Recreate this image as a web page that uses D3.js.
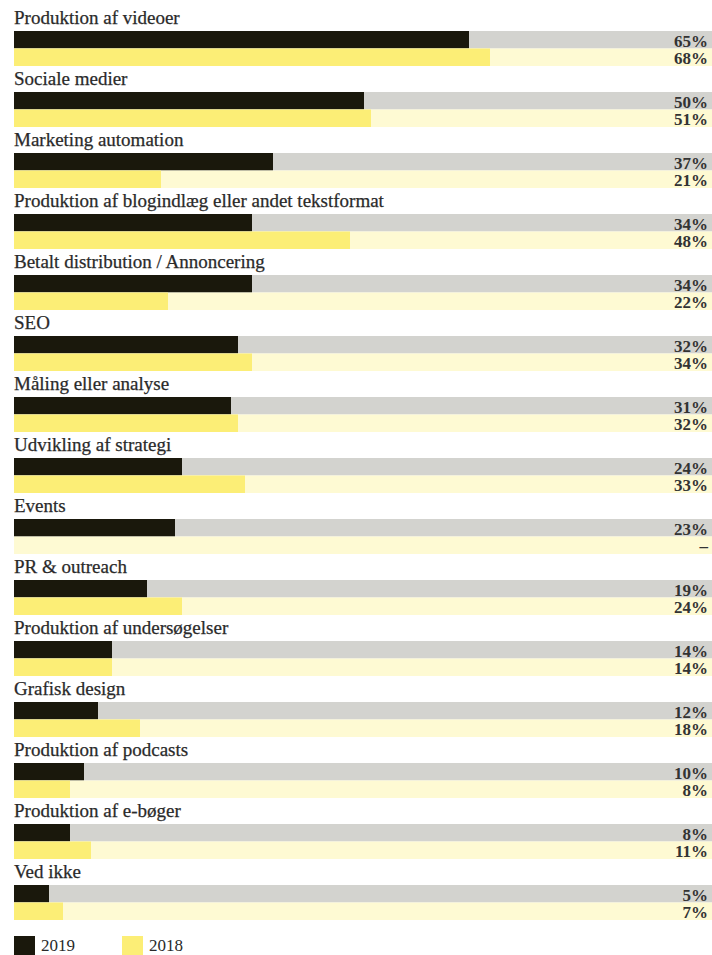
<!DOCTYPE html>
<html>
<head>
<meta charset="utf-8">
<script src="https://cdn.jsdelivr.net/npm/d3@7"></script>
<style>
  body { margin: 0; background: #fff; }
  text { font-family: "Liberation Serif", "DejaVu Serif", serif; }
</style>
</head>
<body>
<svg id="chart" width="712" height="955"></svg>
<script>
// data
var categories = ["Produktion af videoer", "Sociale medier", "Marketing automation",
  "Produktion af blogindlæg eller andet tekstformat", "Betalt distribution / Annoncering",
  "SEO", "Måling eller analyse", "Udvikling af strategi", "Events", "PR & outreach",
  "Produktion af undersøgelser", "Grafisk design", "Produktion af podcasts",
  "Produktion af e-bøger", "Ved ikke"];
var values2019 = [65, 50, 37, 34, 34, 32, 31, 24, 23, 19, 14, 12, 10, 8, 5];
var values2018 = [68, 51, 21, 48, 22, 34, 32, 33, null, 24, 14, 18, 8, 11, 7];
var seriesNames = ["2019", "2018"];

var svg = d3.select("#chart");

var colors = {"2019": "#1a180c", "2018": "#fcee76"};
var tracks = {"2019": "#d3d3cf", "2018": "#fefad3"};

var x = d3.scaleLinear().domain([0, 100]).range([14, 714]);

// one band per category, 61px apart
var y = d3.scaleBand().domain(categories).range([8, 8 + 61 * categories.length]).padding(0);
var ySub = d3.scaleBand().domain(seriesNames).range([23, 58]);

var rows = [];
categories.forEach(function(c, i) {
  rows.push({cat: c, series: "2019", v: values2019[i]});
  rows.push({cat: c, series: "2018", v: values2018[i]});
});

var group = svg.selectAll("g.cat")
  .data(categories)
  .enter().append("g")
  .attr("class", "cat")
  .attr("transform", function(d) { return "translate(0," + y(d) + ")"; });

group.append("text")
  .attr("x", 14)
  .attr("y", 16)
  .attr("font-size", "19px")
  .attr("fill", "#2a2a2a")
  .attr("stroke", "#2a2a2a")
  .attr("stroke-width", 0.25)
  .text(function(d) { return d; });

var bars = svg.selectAll("g.bar")
  .data(rows)
  .enter().append("g")
  .attr("class", "bar")
  .attr("transform", function(d) { return "translate(0," + (y(d.cat) + ySub(d.series)) + ")"; });

// background track
bars.append("rect")
  .attr("x", x(0))
  .attr("width", x(100) - x(0))
  .attr("height", ySub.bandwidth())
  .attr("fill", function(d) { return tracks[d.series]; });

bars.append("rect")
  .attr("x", x(0))
  .attr("width", function(d) { return d.v == null ? 0 : x(d.v) - x(0); })
  .attr("height", ySub.bandwidth())
  .attr("fill", function(d) { return colors[d.series]; });

bars.append("text")
  .attr("x", 708)
  .attr("y", ySub.bandwidth() - 2)
  .attr("text-anchor", "end")
  .attr("font-size", "17px")
  .attr("font-weight", "bold")
  .attr("fill", "#333")
  .text(function(d) { return d.v == null ? "–" : d.v + "%"; });

// legend
var legend = svg.selectAll("g.legend")
  .data(seriesNames)
  .enter().append("g")
  .attr("class", "legend")
  .attr("transform", function(d, i) { return "translate(" + (14 + i * 108) + ",936)"; });

legend.append("rect")
  .attr("width", 21)
  .attr("height", 19)
  .attr("fill", function(d) { return colors[d]; });

legend.append("text")
  .attr("x", 27)
  .attr("y", 15)
  .attr("font-size", "17px")
  .attr("fill", "#2a2a2a")
  .text(function(d) { return d; });
</script>
</body>
</html>
